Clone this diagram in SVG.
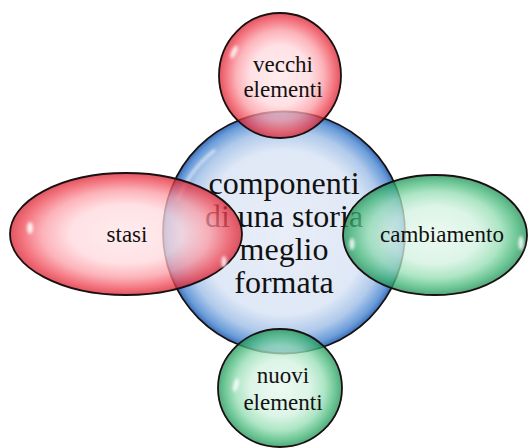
<svg xmlns="http://www.w3.org/2000/svg" width="529" height="448" viewBox="0 0 529 448">
<defs>
<radialGradient id="gBlue" cx="0.5" cy="0.5" r="0.5">
<stop offset="0" stop-color="#e9eef8"/>
<stop offset="0.68" stop-color="#dfe8f6"/>
<stop offset="0.84" stop-color="#b0caeb"/>
<stop offset="0.95" stop-color="#6a9cd9"/>
<stop offset="1" stop-color="#3a6fb8"/>
</radialGradient>
<radialGradient id="gRed" cx="0.5" cy="0.5" r="0.5">
<stop offset="0" stop-color="#ffe6e9"/>
<stop offset="0.48" stop-color="#ffd8dc"/>
<stop offset="0.72" stop-color="#fb9aa3"/>
<stop offset="0.9" stop-color="#ef4653"/>
<stop offset="1" stop-color="#d62030"/>
</radialGradient>
<radialGradient id="gGreen" cx="0.5" cy="0.5" r="0.5">
<stop offset="0" stop-color="#e7f8ee"/>
<stop offset="0.48" stop-color="#d1f1df"/>
<stop offset="0.72" stop-color="#93ddb2"/>
<stop offset="0.9" stop-color="#3db372"/>
<stop offset="1" stop-color="#1d8d53"/>
</radialGradient>
<filter id="blur" x="-1" y="-1" width="3" height="3"><feGaussianBlur stdDeviation="1.6"/></filter>
</defs>
<style>
.big{font-family:"Liberation Serif","Times New Roman",serif;font-size:32px;fill:#111;text-anchor:middle}
.sm{font-family:"Liberation Serif","Times New Roman",serif;font-size:23px;fill:#111;text-anchor:middle}
.edge{stroke:#1a1010;stroke-width:1.8}
.sat{fill-opacity:0.76}
.hl{fill:#fff;opacity:0.85;filter:url(#blur)}
</style>
<g id="connectors"/>
<g id="center">
<circle cx="284" cy="232.5" r="121" fill="url(#gBlue)" class="edge"/>
<path d="M178,200 A110,110 0 0 1 215,150" fill="none" stroke="#fff" stroke-width="3" opacity="0.6" filter="url(#blur)"/>
<text class="big" x="284" y="194">componenti</text>
<text class="big" x="284" y="227">di una storia</text>
<text class="big" x="284" y="260">meglio</text>
<text class="big" x="284" y="293">formata</text>
</g>
<g id="vecchi">
<ellipse cx="280" cy="75.5" rx="61" ry="62.5" fill="url(#gRed)" class="edge sat"/>
<ellipse class="hl" cx="234" cy="52" rx="2.5" ry="7" transform="rotate(25 234 52)"/>
<text class="sm" x="283" y="72">vecchi</text>
<text class="sm" x="283" y="97">elementi</text>
</g>
<g id="stasi">
<ellipse cx="126" cy="234" rx="116" ry="61" fill="url(#gRed)" class="edge sat"/>
<ellipse class="hl" cx="30" cy="228" rx="3" ry="6"/>
<ellipse class="hl" cx="224" cy="262" rx="2.5" ry="6"/>
<text class="sm" x="127" y="242">stasi</text>
</g>
<g id="cambiamento">
<ellipse cx="435" cy="235" rx="92" ry="60" fill="url(#gGreen)" class="edge sat"/>
<ellipse class="hl" cx="521" cy="243" rx="2.5" ry="7"/>
<ellipse class="hl" cx="352" cy="244" rx="2.5" ry="6"/>
<text class="sm" x="442" y="242">cambiamento</text>
</g>
<g id="nuovi">
<ellipse cx="280" cy="388" rx="62" ry="59" fill="url(#gGreen)" class="edge sat"/>
<ellipse class="hl" cx="236" cy="385" rx="2.5" ry="7" transform="rotate(15 236 385)"/>
<text class="sm" x="283" y="383">nuovi</text>
<text class="sm" x="283" y="410">elementi</text>
</g>
</svg>
